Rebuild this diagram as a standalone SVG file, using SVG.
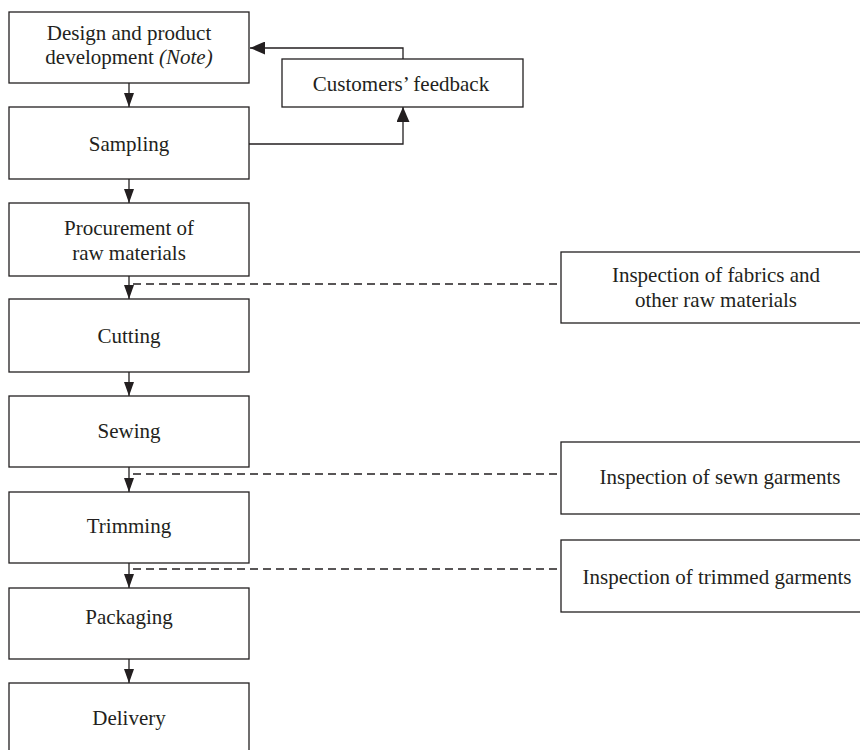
<svg xmlns="http://www.w3.org/2000/svg" width="860" height="750" viewBox="0 0 860 750">
  <style>
    .box { fill: #ffffff; stroke: #231f20; stroke-width: 1.3; }
    .lbl { font-family: "Liberation Serif", "Times New Roman", serif; font-size: 21px; fill: #231f20; text-anchor: middle; }
    .conn { fill: none; stroke: #231f20; stroke-width: 1.3; }
    .dash { fill: none; stroke: #231f20; stroke-width: 1.5; stroke-dasharray: 8 5; }
  </style>
  <defs>
    <marker id="arrS" markerUnits="userSpaceOnUse" markerWidth="14" markerHeight="10" refX="14" refY="5" orient="auto">
      <path d="M0,0 L14,5 L0,10 z" fill="#231f20"/>
    </marker>
    <marker id="arrL" markerUnits="userSpaceOnUse" markerWidth="15" markerHeight="13" refX="15" refY="6.5" orient="auto">
      <path d="M0,0 L15,6.5 L0,13 z" fill="#231f20"/>
    </marker>
  </defs>
  <rect width="860" height="750" fill="#ffffff"/>

  <g id="connectors">
    <line class="conn" x1="129" y1="83" x2="129" y2="107" marker-end="url(#arrS)"/>
    <line class="conn" x1="129" y1="179" x2="129" y2="203" marker-end="url(#arrS)"/>
    <line class="conn" x1="129" y1="276" x2="129" y2="299" marker-end="url(#arrS)"/>
    <line class="conn" x1="129" y1="372" x2="129" y2="396" marker-end="url(#arrS)"/>
    <line class="conn" x1="129" y1="467" x2="129" y2="492" marker-end="url(#arrS)"/>
    <line class="conn" x1="129" y1="563" x2="129" y2="588" marker-end="url(#arrS)"/>
    <line class="conn" x1="129" y1="659" x2="129" y2="683" marker-end="url(#arrS)"/>
    <polyline class="conn" points="249,144 403,144 403,107" marker-end="url(#arrL)"/>
    <polyline class="conn" points="403,59 403,48 250,48" marker-end="url(#arrL)"/>
    <line class="dash" x1="133" y1="284" x2="561" y2="284"/>
    <line class="dash" x1="133" y1="474" x2="561" y2="474"/>
    <line class="dash" x1="133" y1="569" x2="561" y2="569"/>
  </g>

  <g id="design">
    <rect class="box" x="9" y="12" width="240" height="71"/>
    <text class="lbl" x="129" y="40">Design and product</text>
    <text class="lbl" x="129" y="64">development <tspan font-style="italic">(Note)</tspan></text>
  </g>
  <g id="feedback">
    <rect class="box" x="282" y="59" width="241" height="48"/>
    <text class="lbl" x="401" y="91">Customers’ feedback</text>
  </g>
  <g id="sampling">
    <rect class="box" x="9" y="107" width="240" height="72"/>
    <text class="lbl" x="129" y="151">Sampling</text>
  </g>
  <g id="procurement">
    <rect class="box" x="9" y="203" width="240" height="73"/>
    <text class="lbl" x="129" y="235">Procurement of</text>
    <text class="lbl" x="129" y="260">raw materials</text>
  </g>
  <g id="cutting">
    <rect class="box" x="9" y="299" width="240" height="73"/>
    <text class="lbl" x="129" y="343">Cutting</text>
  </g>
  <g id="sewing">
    <rect class="box" x="9" y="396" width="240" height="71"/>
    <text class="lbl" x="129" y="438">Sewing</text>
  </g>
  <g id="trimming">
    <rect class="box" x="9" y="492" width="240" height="71"/>
    <text class="lbl" x="129" y="533">Trimming</text>
  </g>
  <g id="packaging">
    <rect class="box" x="9" y="588" width="240" height="71"/>
    <text class="lbl" x="129" y="624">Packaging</text>
  </g>
  <g id="delivery">
    <rect class="box" x="9" y="683" width="240" height="72"/>
    <text class="lbl" x="129" y="725">Delivery</text>
  </g>
  <g id="inspect-fabrics">
    <rect class="box" x="561" y="252" width="312" height="71"/>
    <text class="lbl" x="716" y="282">Inspection of fabrics and</text>
    <text class="lbl" x="716" y="307">other raw materials</text>
  </g>
  <g id="inspect-sewn">
    <rect class="box" x="561" y="442" width="312" height="72"/>
    <text class="lbl" x="720" y="484">Inspection of sewn garments</text>
  </g>
  <g id="inspect-trimmed">
    <rect class="box" x="561" y="540" width="312" height="72"/>
    <text class="lbl" x="717" y="584">Inspection of trimmed garments</text>
  </g>
</svg>
